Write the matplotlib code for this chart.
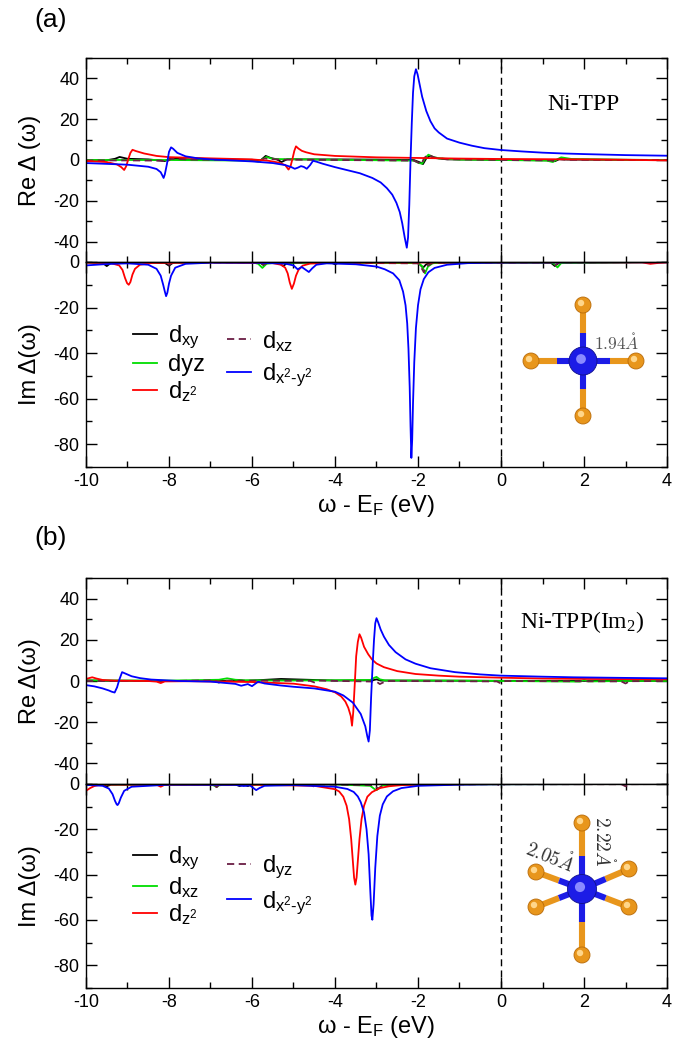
import matplotlib
matplotlib.use("Agg")
import matplotlib.pyplot as plt
from matplotlib.patches import Circle
from matplotlib.ticker import MultipleLocator

plt.rcParams['font.family'] = ['Liberation Sans', 'DejaVu Sans']
plt.rcParams['mathtext.fontset'] = 'custom'
plt.rcParams['mathtext.rm'] = 'Liberation Sans'
plt.rcParams['mathtext.it'] = 'Liberation Sans:italic'
plt.rcParams['mathtext.default'] = 'regular'
plt.rcParams['axes.unicode_minus'] = False

# ---------------- Panel (a): Ni-TPP ----------------
# Re Delta
a_re_blue_x = [-10, -9.5, -9, -8.5, -8.3, -8.2, -8.13, -8.1, -8.05, -8.0, -7.95, -7.9, -7.8, -7.6, -7.3, -7.0,
               -6.5, -6.0, -5.5, -5.2, -5.05, -4.97, -4.9, -4.82, -4.75, -4.68, -4.6, -4.53, -4.45, -4.3,
               -4.0, -3.7, -3.4, -3.1, -2.9, -2.75, -2.62, -2.52, -2.44, -2.38, -2.32, -2.27, -2.24, -2.21,
               -2.18, -2.15, -2.12, -2.09, -2.05, -2.01, -1.96, -1.9, -1.8, -1.7, -1.6, -1.5, -1.3, -1.0,
               -0.7, -0.4, 0, 0.5, 1, 1.5, 2, 3, 4]
a_re_blue_y = [-1.5, -1.9, -2.3, -3.3, -4.4, -6.0, -8.8, -7.0, -2.0, 4.0, 6.2, 5.5, 3.5, 1.8, 0.8, 0.3,
               -0.2, -0.7, -1.5, -2.5, -3.5, -4.3, -3.8, -3.0, -3.4, -4.3, -2.5, -0.4, -0.8, -1.8,
               -3.5, -5.0, -6.5, -8.8, -11, -13.8, -17, -21, -25.5, -31, -38, -43, -38, -22,
               0, 18, 33, 41, 44.5, 42, 37, 31, 24, 19, 15.5, 13.5, 10.5, 8.5,
               7.0, 5.8, 4.9, 4.2, 3.6, 3.2, 2.9, 2.4, 2.1]
a_re_red_x = [-10, -9.5, -9.25, -9.15, -9.08, -9.03, -8.98, -8.93, -8.88, -8.8, -8.6, -8.3, -8.0, -7.0, -6.0,
              -5.6, -5.35, -5.2, -5.12, -5.07, -5.02, -4.98, -4.94, -4.88, -4.8, -4.7, -4.5, -4.0, -3.0,
              -2.0, -1.0, 0, 2, 3, 4]
a_re_red_y = [-0.5, -1.0, -2.2, -3.5, -4.9, -3.0, 0.5, 3.5, 5.0, 4.4, 3.2, 2.0, 1.4, 0.8, 0.3,
              -0.4, -1.3, -2.5, -4.7, -3.0, 1.0, 4.5, 6.7, 5.6, 4.5, 3.8, 2.8, 2.0, 1.3,
              1.0, 0.7, 0.5, 0.3, 0.1, -0.2]
a_re_black_x = [-10, -9.7, -9.55, -9.3, -9.19, -9.0, -8.5, -8.1, -8.0, -7.9, -7.5, -6.5, -6.0, -5.8, -5.67,
                -5.55, -5.4, -5.29, -5.15, -4.8, -4.0, -3.0, -2.1, -1.95, -1.88, -1.8, -1.72, -1.6, -1.3,
                0, 1.2, 1.3, 1.4, 1.6, 3, 4]
a_re_black_y = [-0.3, 0.0, -0.3, 0.6, 1.5, 0.6, 0.3, -0.5, 0.4, 0.6, 0.3, 0.2, 0.1, -0.3, 2.0,
                1.0, 0.3, -1.0, 0.4, 0.3, 0.3, 0.2, 0.0, -1.2, -2.0, 0.8, 2.0, 1.0, 0.3,
                0.1, -0.2, -0.6, 0.4, 0.2, 0.1, 0.0]
a_re_green_x = [-10, -8, -6, -5.85, -5.75, -5.65, -5.5, -4, -2.1, -1.98, -1.9, -1.83, -1.75, -1.65, -1.5, -1,
                0, 1.1, 1.25, 1.35, 1.45, 1.7, 3, 4]
a_re_green_y = [0.0, 0.0, -0.3, -0.8, 0.3, 1.5, 0.5, 0.1, -0.3, -1.5, -1.8, 0.8, 2.6, 1.6, 0.8, 0.2,
                0.0, -0.3, -1.0, 0.3, 1.3, 0.5, 0.1, 0.0]
a_re_maroon_x = [-10, -9, -8.2, -8.05, -7.95, -7.5, -6, -5.8, -5.7, -5.6, -5.3, -4, -2.1, -2.0, -1.92,
                 -1.85, -1.75, -1.6, -1.3, 0, 1.2, 1.3, 1.4, 1.6, 4]
a_re_maroon_y = [-0.2, -0.2, -0.3, -0.8, 0.6, 0.2, 0.0, -0.5, 0.8, 0.5, 0.2, 0.0, -0.3, -1.2, -2.0,
                 1.0, 2.6, 1.2, 0.4, 0.0, -0.2, -0.7, 0.4, 0.1, 0.0]

# Im Delta
a_im_blue_x = [-10, -9.5, -9, -8.5, -8.3, -8.2, -8.14, -8.1, -8.07, -8.04, -8.0, -7.95, -7.85, -7.6, -7.0,
               -6.0, -5.2, -5.0, -4.9, -4.8, -4.7, -4.63, -4.55, -4.45, -4.2, -3.5, -3.0, -2.8, -2.6,
               -2.45, -2.36, -2.3, -2.26, -2.23, -2.2, -2.18, -2.16, -2.14, -2.12, -2.09, -2.05, -2.0,
               -1.94, -1.86, -1.75, -1.6, -1.3, -0.8, 0, 4]
a_im_blue_y = [-1.5, -0.9, -0.6, -1.2, -3.0, -6.0, -10, -13, -15, -13.5, -9.5, -6.0, -2.5, -0.8, -0.3,
               -0.3, -0.7, -1.5, -3.2, -2.2, -3.5, -4.4, -2.8, -1.2, -0.6, -1.0, -2.0, -3.2, -5.0,
               -8.0, -13, -19, -27, -38, -55, -72, -86, -78, -62, -44, -29, -19,
               -12, -7.5, -4.5, -2.6, -1.2, -0.5, -0.2, -0.1]
a_im_red_x = [-10, -9.4, -9.2, -9.12, -9.06, -9.01, -8.97, -8.93, -8.88, -8.82, -8.7, -8.4, -7, -5.5,
              -5.3, -5.2, -5.14, -5.09, -5.04, -4.99, -4.94, -4.88, -4.78, -4.6, -4.0, 0, 3.4, 3.6, 3.8, 4]
a_im_red_y = [-0.2, -0.5, -1.5, -3.5, -7.0, -9.3, -10, -8.8, -5.5, -3.0, -1.2, -0.4, -0.2, -0.5,
              -1.2, -2.5, -5.0, -9.0, -11.8, -9.5, -6.0, -3.5, -1.6, -0.7, -0.3, -0.1, -0.2, -0.8, -0.4, -0.2]
a_im_black_x = [-10, -9.6, -9.5, -9.4, -9.0, -8.1, -8.0, -7.9, -7.0, -5.8, -5.72, -5.65, -5.35, -5.25,
                -5.15, -4.1, -4.0, -3.9, -2.0, -1.88, -1.8, -1.7, 1.2, 1.3, 1.4, 4]
a_im_black_y = [-0.1, -0.4, -1.8, -0.4, -0.1, -0.4, -1.6, -0.3, -0.1, -0.3, -1.4, -0.3, -0.4, -1.8,
                -0.4, -0.2, -1.0, -0.2, -0.2, -2.5, -1.0, -0.3, -0.3, -1.8, -0.3, 0.0]
a_im_green_x = [-10, -6, -5.85, -5.75, -5.65, -5.4, -2.0, -1.9, -1.83, -1.76, -1.65, -1.4, 1.2, 1.3,
                1.36, 1.45, 4]
a_im_green_y = [0.0, -0.1, -0.8, -2.6, -0.8, -0.2, -0.5, -1.8, -5.0, -2.0, -0.6, -0.1, -0.2, -1.0,
                -2.4, -0.5, 0.0]
a_im_maroon_x = [-10, -8.1, -8.0, -7.9, -5.8, -5.72, -5.6, -2.0, -1.92, -1.86, -1.78, -1.65, 1.2, 1.3,
                 1.4, 4]
a_im_maroon_y = [-0.1, -0.3, -1.2, -0.2, -0.2, -1.2, -0.2, -0.6, -2.5, -4.5, -1.8, -0.4, -0.2, -1.5,
                 -0.2, 0.0]

# ---------------- Panel (b): Ni-TPP(Im2) ----------------
b_re_blue_x = [-10, -9.8, -9.6, -9.45, -9.38, -9.31, -9.25, -9.2, -9.13, -9.05, -8.9, -8.7, -8.43, -7.76,
               -7.0, -6.4, -6.26, -6.1, -6.0, -5.85, -5.7, -5.3, -5.0, -4.5, -4.0, -3.8, -3.57, -3.38,
               -3.27, -3.22, -3.19, -3.16, -3.13, -3.10, -3.06, -3.03, -3.0, -2.96, -2.9, -2.82, -2.7,
               -2.54, -2.3, -2.06, -1.7, -1.11, -0.5, 0, 1, 1.74, 3, 4]
b_re_blue_y = [-2.0, -2.6, -3.6, -4.6, -5.2, -5.6, -3.0, 0.5, 4.3, 3.6, 2.3, 1.4, 0.7, 0.0,
               -0.3, -1.4, -2.3, -1.5, -2.5, -0.3, -1.2, -2.2, -2.8, -3.6, -5.2, -7.0, -10.5, -16,
               -22, -27, -29.4, -24, -8, 5, 20, 28, 30.5, 28.5, 25, 21.5, 17.5,
               14, 10.5, 8.4, 6.2, 4.3, 3.2, 2.6, 2.1, 1.8, 1.5, 1.3]
b_re_red_x = [-10, -9.85, -9.75, -9.6, -9.3, -8.5, -8.3, -8.2, -8.1, -7.5, -6, -5, -4.5, -4.2, -4.0,
              -3.85, -3.75, -3.68, -3.62, -3.59, -3.56, -3.52, -3.49, -3.45, -3.41, -3.37, -3.3, -3.2,
              -3.11, -3.0, -2.82, -2.5, -2.06, -1.5, -1, 0, 1, 2, 4]
b_re_red_y = [1.0, 1.8, 1.2, 0.5, 0.2, 0.0, -0.3, -1.0, -0.2, -0.1, -0.5, -1.3, -2.6, -4.0, -5.5,
              -7.5, -10, -13, -17, -21.7, -15, 0, 12, 19, 22.7, 21, 16.6, 13,
              10.5, 8.5, 6.7, 4.8, 3.4, 2.6, 2.1, 1.6, 1.2, 1.0, 0.8]
b_re_black_x = [-10, -9.5, -6.5, -6.3, -6.2, -5.3, -4, -3.1, -3.0, -2.9, 0, 4]
b_re_black_y = [0.3, 0.1, 0.0, 0.5, 0.0, 1.0, 0.2, 0.3, 0.8, 0.2, 0.1, 0.0]
b_re_green_x = [-10, -8, -6.8, -6.6, -6.4, -6.2, -5.2, -3.15, -3.05, -3.0, -2.92, -2.8, -1, 0, 1.9, 2.0,
                2.1, 3, 4]
b_re_green_y = [0.3, 0.2, 0.6, 1.3, 0.6, 0.4, 0.2, 0.5, 1.6, 2.0, 0.8, 0.3, 0.2, 0.0, -0.3, 0.5,
                -0.2, 0.0, 0.0]
b_re_maroon_x = [-10, -8, -6.9, -6.8, -6.7, -4.6, -4.5, -4.4, -3.0, -2.92, -2.85, -2.7, -0.1, 0, 0.1,
                 2.9, 3.0, 3.1, 4]
b_re_maroon_y = [0.0, 0.0, 0.3, -0.8, 0.2, 0.1, -0.7, 0.2, -0.3, -1.5, -0.8, 0.0, -0.2, -1.2, 0.0,
                 -0.2, -1.2, -0.1, 0.0]

b_im_blue_x = [-10, -9.6, -9.45, -9.36, -9.3, -9.26, -9.24, -9.21, -9.16, -9.08, -8.9, -8.0, -6.4, -6.2,
               -6.05, -5.95, -5.9, -5.82, -5.7, -5.0, -4.0, -3.7, -3.55, -3.45, -3.38, -3.3, -3.24,
               -3.19, -3.15, -3.12, -3.10, -3.07, -3.03, -2.98, -2.92, -2.85, -2.75, -2.6, -2.4, -2.0,
               -1.0, 0, 4]
b_im_blue_y = [-0.4, -0.8, -2.0, -4.5, -7.5, -9.0, -9.3, -8.5, -6.0, -3.0, -1.2, -0.3, -0.4, -0.9,
               -0.6, -2.0, -2.7, -1.8, -0.8, -0.5, -1.2, -2.2, -3.5, -5.5, -8.0, -12.5, -20,
               -31, -47, -58, -59.9, -53, -37, -23, -14, -9.0, -5.5, -3.2, -1.8, -0.8,
               -0.3, -0.1, 0.0]
b_im_red_x = [-10, -9.9, -9.8, -9.7, -9.5, -8.3, -8.2, -8.1, -6, -4.5, -4.0, -3.9, -3.8, -3.72, -3.66,
              -3.61, -3.57, -3.54, -3.51, -3.48, -3.45, -3.41, -3.36, -3.3, -3.22, -3.11, -2.92, -2.7,
              -2.4, -2.0, -1.0, 0, 4]
b_im_red_y = [-3.0, -1.8, -0.9, -0.5, -0.2, -0.3, -1.2, -0.3, -0.3, -0.8, -2.3, -3.3, -5.6, -9.6, -15.5,
              -24.3, -34, -41.3, -44.4, -41.3, -34, -24.3, -15.5, -9.6, -5.6, -3.6, -1.8, -1.0,
              -0.5, -0.3, -0.1, 0.0, 0.0]
b_im_black_x = [-10, -9.6, -9.5, -9.4, -6.4, -6.3, -6.2, -6.1, -6.0, -4, 0, 4]
b_im_black_y = [-0.1, -0.3, -1.0, -0.3, -0.2, -0.9, -0.3, -0.9, -0.2, -0.1, 0.0, 0.0]
b_im_green_x = [-10, -7, -6.9, -6.85, -6.8, -6.6, -4, -3.15, -3.05, -3.0, -2.95, -2.85, -2.5, 0, 4]
b_im_green_y = [-0.1, -0.2, -0.8, -1.3, -0.6, -0.2, -0.2, -0.8, -2.2, -2.7, -2.0, -0.6, -0.2, -0.1, 0.0]
b_im_maroon_x = [-10, -7, -6.9, -6.85, -6.8, -6.5, -6.3, -6.2, -4.6, -4.5, -4.4, -3.1, -3.0, -2.95, -2.88,
                 -2.7, -0.1, 0, 0.1, 2.9, 3.0, 3.1, 4]
b_im_maroon_y = [-0.1, -0.2, -0.8, -1.4, -0.4, -0.2, -0.5, -0.2, -0.2, -1.2, -0.2, -0.5, -1.5, -2.0, -1.0,
                 -0.2, -0.1, -0.8, -0.1, -0.1, -1.0, -0.1, 0.0]

a_labels_col1 = ['d$_{xy}$', 'dyz', 'd$_{z^2}$']
a_labels_col2 = ['d$_{xz}$', 'd$_{x^2\\text{-}y^2}$']
b_labels_col1 = ['d$_{xy}$', 'd$_{xz}$', 'd$_{z^2}$']
b_labels_col2 = ['d$_{yz}$', 'd$_{x^2\\text{-}y^2}$']

x_ticks = [-10, -8, -6, -4, -2, 0, 2, 4]
re_ticks = [-40, -20, 0, 20, 40]
im_ticks = [-80, -60, -40, -20, 0]

C_BLACK = 'black'
C_GREEN = '#00dd00'
C_RED = '#ff0000'
C_MAROON = '#6a1e44'
C_BLUE = '#0000ff'
LW = 1.3

W, H = 700, 1048
fig = plt.figure(figsize=(W / 100, H / 100), dpi=100)


def px_rect(l, t, r, b):
    return [l / W, 1 - b / H, (r - l) / W, (b - t) / H]


def style(ax, ymin, ymax, ticks, showx):
    ax.set_xlim(-10, 4)
    ax.set_ylim(ymin, ymax)
    ax.set_xticks(x_ticks)
    ax.set_yticks(ticks)
    ax.xaxis.set_minor_locator(MultipleLocator(1))
    ax.yaxis.set_minor_locator(MultipleLocator(10))
    ax.tick_params(which='both', direction='in', top=True, right=True, width=1.0,
                   labelsize=13, pad=4.5)
    ax.tick_params(which='major', length=8)
    ax.tick_params(which='minor', length=4)
    ax.tick_params(axis='x', labelbottom=showx)
    for s in ax.spines.values():
        s.set_linewidth(1.0)
    ax.axvline(0, color='k', lw=1.0, ls=(0, (5, 3)), zorder=1)


def draw(ax, series):
    lines = {}
    for key, (x, y, c, ls) in series.items():
        ln, = ax.plot(x, y, color=c, lw=LW, ls=ls, zorder=2)
        lines[key] = ln
    return lines


ax_are = fig.add_axes(px_rect(86, 58, 667, 262))
ax_aim = fig.add_axes(px_rect(86, 262, 667, 467))
ax_bre = fig.add_axes(px_rect(86, 578, 667, 784))
ax_bim = fig.add_axes(px_rect(86, 784, 667, 988))

style(ax_are, -50, 50, re_ticks, False)
style(ax_aim, -90, 0, im_ticks, True)
style(ax_bre, -50, 50, re_ticks, False)
style(ax_bim, -90, 0, im_ticks, True)

dash = (0, (4, 2.5))
draw(ax_are, {'k': (a_re_black_x, a_re_black_y, C_BLACK, '-'),
              'g': (a_re_green_x, a_re_green_y, C_GREEN, '-'),
              'm': (a_re_maroon_x, a_re_maroon_y, C_MAROON, dash),
              'r': (a_re_red_x, a_re_red_y, C_RED, '-'),
              'b': (a_re_blue_x, a_re_blue_y, C_BLUE, '-')})
la = draw(ax_aim, {'k': (a_im_black_x, a_im_black_y, C_BLACK, '-'),
                   'g': (a_im_green_x, a_im_green_y, C_GREEN, '-'),
                   'm': (a_im_maroon_x, a_im_maroon_y, C_MAROON, dash),
                   'r': (a_im_red_x, a_im_red_y, C_RED, '-'),
                   'b': (a_im_blue_x, a_im_blue_y, C_BLUE, '-')})
draw(ax_bre, {'k': (b_re_black_x, b_re_black_y, C_BLACK, '-'),
              'g': (b_re_green_x, b_re_green_y, C_GREEN, '-'),
              'm': (b_re_maroon_x, b_re_maroon_y, C_MAROON, dash),
              'r': (b_re_red_x, b_re_red_y, C_RED, '-'),
              'b': (b_re_blue_x, b_re_blue_y, C_BLUE, '-')})
lb = draw(ax_bim, {'k': (b_im_black_x, b_im_black_y, C_BLACK, '-'),
                   'g': (b_im_green_x, b_im_green_y, C_GREEN, '-'),
                   'm': (b_im_maroon_x, b_im_maroon_y, C_MAROON, dash),
                   'r': (b_im_red_x, b_im_red_y, C_RED, '-'),
                   'b': (b_im_blue_x, b_im_blue_y, C_BLUE, '-')})

for ax, lab in [(ax_are, 'Re Δ (ω)'), (ax_aim, 'Im Δ(ω)'), (ax_bre, 'Re Δ(ω)'), (ax_bim, 'Im Δ(ω)')]:
    ax.set_ylabel(lab, fontsize=17)
    ax.yaxis.set_label_coords(-0.078, 0.5)
for ax in (ax_aim, ax_bim):
    ax.set_xlabel('ω - E$_F$ (eV)', fontsize=17, labelpad=2)

fig.text(51 / W, 1 - 20 / H, '(a)', fontsize=19, ha='center', va='center')
fig.text(51 / W, 1 - 538 / H, '(b)', fontsize=19, ha='center', va='center')


def add_legends(ax, lines, keys1, labels1, keys2, labels2, x1, y1, x2, y2):
    common = dict(loc='center left', bbox_transform=fig.transFigure, frameon=False, fontsize=17,
                  handlelength=1.0, handletextpad=0.5, borderpad=0, borderaxespad=0)
    leg1 = ax.legend([lines[k] for k in keys1], labels1, bbox_to_anchor=(x1 / W, 1 - y1 / H),
                     labelspacing=0.12, **common)
    ax.add_artist(leg1)
    ax.legend([lines[k] for k in keys2], labels2, bbox_to_anchor=(x2 / W, 1 - y2 / H),
              labelspacing=0.35, **common)


add_legends(ax_aim, la, ['k', 'g', 'r'], a_labels_col1, ['m', 'b'], a_labels_col2, 133, 364, 227, 359)
add_legends(ax_bim, lb, ['k', 'g', 'r'], b_labels_col1, ['m', 'b'], b_labels_col2, 133, 886, 227, 885)

ov = fig.add_axes([0, 0, 1, 1], zorder=10)
ov.set_xlim(0, W)
ov.set_ylim(H, 0)
ov.axis('off')
ov.patch.set_alpha(0)

ov.text(583, 104, 'Ni-TPP', fontsize=17, family='Liberation Serif', ha='center', va='center')
ov.text(582, 622, 'Ni-TPP(Im$_2$)', fontsize=17, family='Liberation Serif',
        ha='center', va='center')

ORANGE = '#e8961c'
ORANGE_EDGE = '#b86a08'
NIBLUE = '#1c1ce6'


def molecule(center, ligands, rc=13.5, rl=8):
    cx, cy = center
    for lx, ly in ligands:
        mx, my = (cx + lx) / 2, (cy + ly) / 2
        ov.plot([lx, mx], [ly, my], color=ORANGE, lw=4.4, solid_capstyle='butt', zorder=1)
        ov.plot([mx, cx], [my, cy], color=NIBLUE, lw=4.4, solid_capstyle='butt', zorder=1)
    for lx, ly in ligands:
        ov.add_patch(Circle((lx, ly), rl, facecolor=ORANGE, edgecolor=ORANGE_EDGE, lw=0.6, zorder=3))
        ov.add_patch(Circle((lx - 2, ly - 2), rl * 0.4, facecolor='#ffd68a', edgecolor='none', zorder=4))
    ov.add_patch(Circle((cx, cy), rc, facecolor=NIBLUE, edgecolor='#10108a', lw=0.6, zorder=3))
    ov.add_patch(Circle((cx - 2, cy - 2), rc * 0.35, facecolor='#8a8aff', edgecolor='none', zorder=4))


molecule((583, 361), [(583, 305), (583, 416), (531, 361), (636, 361)], rc=14)
ov.text(617, 343, r'$\mathrm{1.94}\mathring{\mathit{A}}$', fontsize=12.5, color='#555555',
        math_fontfamily='cm', ha='center', va='center')

molecule((582, 889), [(582, 823), (582, 955), (536, 872), (536, 907), (629, 869), (629, 907)], rc=14.5)
ov.text(550, 857, r'$\mathrm{2.05}\mathring{\mathit{A}}$', fontsize=14, color='#333333',
        math_fontfamily='cm', ha='center', va='center', rotation=-22)
ov.text(603, 841, r'$\mathrm{2.22}\mathring{\mathit{A}}$', fontsize=14, color='#333333',
        math_fontfamily='cm', ha='center', va='center', rotation=-90)

fig.savefig('out.png', dpi=100)
